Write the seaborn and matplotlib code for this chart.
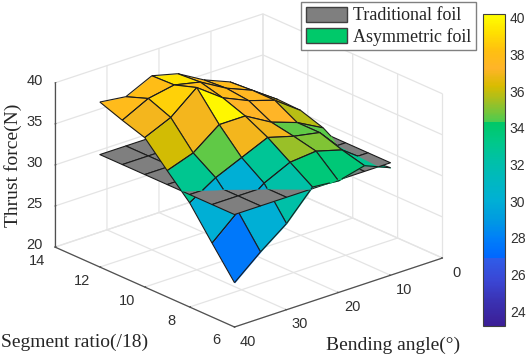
import matplotlib
matplotlib.use('Agg')
import matplotlib.pyplot as plt
from matplotlib.cm import ScalarMappable
from matplotlib.colors import ListedColormap, Normalize
from matplotlib.patches import Patch
from mpl_toolkits.mplot3d import proj3d
from mpl_toolkits.mplot3d.art3d import Line3DCollection, Poly3DCollection
import numpy as np
import seaborn as sns

W, H = 526, 358

bend_angle = [10, 15, 20, 25, 30, 35, 40]
segment_ratio = [6, 7, 8, 9, 10, 11, 12]
bend_ticks = [0, 10, 20, 30, 40]
segment_ticks = [6, 8, 10, 12, 14]
thrust_ticks = [20, 25, 30, 35, 40]
cbar_ticks = [24, 26, 28, 30, 32, 34, 36, 38, 40]

# rows follow bend_angle, columns follow segment_ratio
asym_thrust = [
    [33.1, 32.8, 32.6, 34.3, 35.2, 35.3, 35.0],
    [34.4, 35.1, 36.0, 36.0, 37.5, 37.5, 37.3],
    [33.6, 36.0, 36.6, 37.1, 38.5, 38.8, 38.6],
    [33.9, 35.7, 37.5, 38.9, 39.9, 40.6, 40.4],
    [30.5, 34.2, 36.1, 38.9, 42.2, 41.3, 41.2],
    [28.1, 31.8, 34.7, 36.5, 39.6, 40.7, 39.7],
    [25.4, 29.0, 32.7, 35.4, 38.2, 39.1, 40.1],
]
# facet colour values, same order, one less each way
facet_value = [
    [32.9, 33.0, 34.5, 35.8, 36.5, 37.0],
    [33.8, 35.0, 34.6, 37.3, 37.5, 37.8],
    [33.7, 35.3, 37.0, 37.3, 37.8, 38.0],
    [32.2, 32.8, 37.0, 39.9, 38.0, 39.3],
    [30.0, 30.0, 34.6, 37.0, 38.7, 38.0],
    [27.7, 30.0, 33.0, 36.2, 37.0, 37.8],
]
traditional_thrust = 33.7

low_band = ['#3b1e96', '#3a30b0', '#3a46d4', '#2f5ce8']
mid_band = ['#0068ff', '#0080f8', '#009ce0', '#00b0d4', '#00b8c0', '#00c0a8', '#00c88a', '#00c868']
high_band = ['#4ccc50', '#98c028', '#d8bc00', '#ffb428', '#ffc010', '#ffe000', '#ffff00']

sns.set_style('white')
plt.rcParams['font.family'] = ['Liberation Sans']

cmap = ListedColormap(
    sns.blend_palette(low_band, 56)
    + sns.blend_palette(mid_band, 111)
    + sns.blend_palette(high_band, 89)
)
norm = Normalize(23.2, 40.2)

fig = plt.figure(figsize=(W / 100, H / 100), dpi=100)
ax = fig.add_axes([0.1, 0.1, 0.8, 0.8], projection='3d', computed_zorder=False, proj_type='ortho')
ax.view_init(elev=22.6, azim=49.2)
ax.set_box_aspect((275, 275, 178), zoom=1)
ax.set_xlim(0, 40)
ax.set_ylim(14, 6)
ax.set_zlim(20, 40)
ax.set_xticks(bend_ticks)
ax.set_yticks(segment_ticks)
ax.set_zticks(thrust_ticks)
ax.set_xticklabels([])
ax.set_yticklabels([])
ax.set_zticklabels([])
ax.tick_params(colors='#505050')

for axis in (ax.xaxis, ax.yaxis, ax.zaxis):
    axis.set_pane_color((1, 1, 1, 0))
    axis.pane.set_edgecolor('#e4e4e4')
    axis.line.set_color('#505050')
    axis.line.set_linewidth(0.9)
    axis._axinfo['grid']['color'] = '#e4e4e4'
    axis._axinfo['grid']['linewidth'] = 0.9
    axis._axinfo['tick']['inward_factor'] = 0
    axis._axinfo['tick']['outward_factor'] = 0.06


# the two surfaces cut each other, so split facets at the flat surface
def split_facet(corners, above):
    poly, segs = [], []
    for a, b in zip(corners, corners[1:] + corners[:1]):
        in_a = (a[2] >= traditional_thrust) == above
        in_b = (b[2] >= traditional_thrust) == above
        if in_a:
            poly.append(a)
        if in_a != in_b:
            t = (traditional_thrust - a[2]) / (b[2] - a[2])
            cut = tuple(a[i] + t * (b[i] - a[i]) for i in range(3))
            poly.append(cut)
            segs.append([a, cut] if in_a else [cut, b])
        elif in_a:
            segs.append([a, b])
    return poly, segs


order = 0
for i in range(len(bend_angle) - 1):
    for j in reversed(range(len(segment_ratio) - 1)):
        corners = []
        for m, n in [(i, j), (i + 1, j), (i + 1, j + 1), (i, j + 1)]:
            corners.append((bend_angle[m], segment_ratio[n], asym_thrust[m][n]))
        color = cmap(norm(facet_value[i][j]))
        for above, base in [(False, 0), (True, 500)]:
            poly, segs = split_facet(corners, above)
            if len(poly) < 3:
                continue
            face = Poly3DCollection([poly], facecolor=color, edgecolor=color, linewidth=0.2)
            face.set_zorder(base + order)
            ax.add_collection3d(face, autolim=False)
            lines = Line3DCollection(segs, colors='#1c1c1c', linewidths=0.8)
            lines.set_zorder(base + order + 0.5)
            ax.add_collection3d(lines, autolim=False)
        order += 1

gx, gy = np.meshgrid(bend_angle, segment_ratio, indexing='ij')
ax.plot_surface(gx, gy, np.full(gx.shape, traditional_thrust), color='#7f7f7f',
                edgecolor='#1c1c1c', linewidth=0.8, shade=False, zorder=400)

ax.set_xlim(0, 40)
ax.set_ylim(14, 6)
ax.set_zlim(20, 40)


# move and scale the axes so the floor lands where it does in the reference
def screen(x, y, z):
    px, py, _ = proj3d.proj_transform(x, y, z, ax.get_proj())
    return ax.transAxes.inverted().transform(ax.transData.transform((px, py)))


fig.canvas.draw()
front = screen(40, 6, 20)
right = screen(0, 6, 20)
size = (441 - 233) / (right[0] - front[0])
left_px = 234.5 - size * front[0]
bottom_px = (H - 327) - size * front[1]
ax.set_position([left_px / W, bottom_px / H, size / W, size / H])


def tick_text(x, y, z, dx, dy, text):
    p = screen(x, y, z)
    fig.text((left_px + size * p[0] + dx) / W, (bottom_px + size * p[1] - dy) / H, text,
             ha='center', va='center', fontsize=10.5, color='#303030')


for v in bend_ticks:
    tick_text(v, 6, 20, 13.5, 14.5, str(v))
for v in segment_ticks:
    tick_text(40, v, 20, -18, 13.5, str(v))
for v in thrust_ticks:
    tick_text(40, 14, v, -20.5, -2, str(v))

cax = fig.add_axes([483 / W, 1 - 326 / H, 22 / W, 312 / H])
cbar = fig.colorbar(ScalarMappable(norm=norm, cmap=cmap), cax=cax, ticks=cbar_ticks)
cbar.ax.tick_params(direction='in', length=2, width=0.8, labelsize=10, labelcolor='#303030', color='#404040', pad=3.5)
cbar.outline.set_edgecolor('#404040')
cbar.outline.set_linewidth(0.8)

fig.legend(
    handles=[
        Patch(facecolor='#7f7f7f', edgecolor='#404040', label='Traditional foil'),
        Patch(facecolor='#00c96a', edgecolor='#404040', label='Asymmetric foil'),
    ],
    loc='upper left', bbox_to_anchor=(301 / W, 1 - 2 / H), borderaxespad=0,
    prop={'family': 'Liberation Serif', 'size': 13}, frameon=True, fancybox=False,
    framealpha=1, edgecolor='#808080', handlelength=2.3, handleheight=0.9,
    handletextpad=0.35, labelspacing=0.2, borderpad=0.25,
)

label_style = {'family': 'Liberation Serif', 'size': 14, 'color': '#262626'}
fig.text(13 / W, 1 - 165 / H, 'Thrust force(N)', rotation=90, ha='center', va='center', **label_style)
fig.text(75 / W, 1 - 342 / H, 'Segment ratio(/18)', ha='center', va='center', **label_style)
fig.text(393 / W, 1 - 345 / H, 'Bending angle(°)', ha='center', va='center', **label_style)

fig.savefig('out.png', dpi=100)
